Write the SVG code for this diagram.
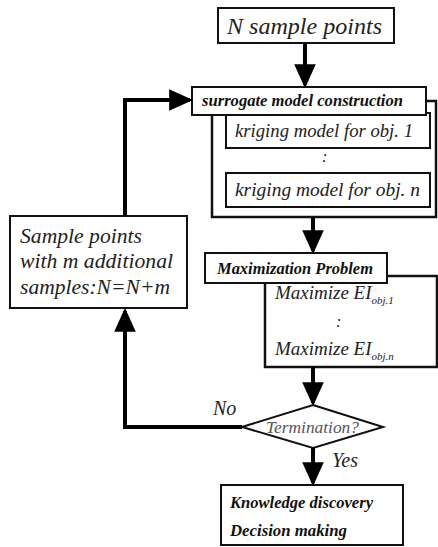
<svg xmlns="http://www.w3.org/2000/svg" width="438" height="547" viewBox="0 0 438 547">
<defs>
<style>
.box{fill:#fff;stroke:#111;stroke-width:2}
.cont{fill:#fff;stroke:#111;stroke-width:2.5}
.wire{fill:none;stroke:#000;stroke-width:4}
.it{font-family:"Liberation Serif","Times New Roman","DejaVu Serif",serif;font-style:italic;fill:#222}
.bi{font-family:"Liberation Serif","Times New Roman","DejaVu Serif",serif;font-style:italic;font-weight:bold;fill:#111}
.sub{font-size:11px}
</style>
<marker id="ah" markerWidth="6" markerHeight="6" refX="5.2" refY="3" orient="auto" markerUnits="strokeWidth" viewBox="0 0 6 6">
<path d="M0,0.3 L6,3 L0,5.7 z" fill="#000"/>
</marker>
</defs>
<rect width="438" height="547" fill="#fff"/>

<g id="n-sample">
<rect class="box" x="218" y="8" width="176" height="35"/>
<text class="it" x="227" y="34" font-size="24" textLength="155" lengthAdjust="spacingAndGlyphs">N sample points</text>
</g>

<g id="surrogate">
<rect class="cont" x="212" y="101" width="224" height="116"/>
<rect class="box" x="226" y="113" width="204" height="35"/>
<text class="it" x="235" y="137" font-size="18" textLength="178" lengthAdjust="spacingAndGlyphs">kriging model for obj. 1</text>
<text class="it" x="322" y="162" font-size="16">:</text>
<rect class="box" x="226" y="173" width="204" height="34"/>
<text class="it" x="235" y="196" font-size="18" textLength="185" lengthAdjust="spacingAndGlyphs">kriging model for obj. n</text>
<rect class="box" x="192" y="87" width="234" height="28"/>
<text class="bi" x="202" y="106" font-size="16" textLength="201" lengthAdjust="spacingAndGlyphs">surrogate model construction</text>
</g>

<g id="maximization">
<path class="cont" d="M387,276 H437 V367 H265 V283"/>
<rect class="box" x="205" y="253" width="182" height="30"/>
<text class="bi" x="217" y="274" font-size="16" textLength="156" lengthAdjust="spacingAndGlyphs">Maximization Problem</text>
<text class="it" x="275" y="299" font-size="19">Maximize EI<tspan class="sub" dy="5">obj.1</tspan></text>
<text class="it" x="336" y="327" font-size="16">:</text>
<text class="it" x="275" y="355" font-size="19">Maximize EI<tspan class="sub" dy="5">obj.n</tspan></text>
</g>

<g id="termination">
<polygon points="313,405 383,427 313,448 242,427" fill="#fff" stroke="#111" stroke-width="2"/>
<text class="it" x="266" y="433" font-size="16" style="fill:#555" textLength="93" lengthAdjust="spacingAndGlyphs">Termination?</text>
</g>

<g id="sample-points">
<rect class="box" x="10" y="216" width="177" height="92"/>
<text class="it" x="20" y="243" font-size="21" textLength="122" lengthAdjust="spacingAndGlyphs">Sample points</text>
<text class="it" x="20" y="268" font-size="21" textLength="153" lengthAdjust="spacingAndGlyphs">with m additional</text>
<text class="it" x="20" y="294" font-size="21" textLength="150" lengthAdjust="spacingAndGlyphs">samples:N=N+m</text>
</g>

<g id="result">
<rect class="box" x="221" y="485" width="182" height="60"/>
<text class="bi" x="230" y="508" font-size="16" textLength="143" lengthAdjust="spacingAndGlyphs">Knowledge discovery</text>
<text class="bi" x="230" y="536" font-size="16" textLength="117" lengthAdjust="spacingAndGlyphs">Decision making</text>
</g>

<g id="connectors">
<line class="wire" x1="305" y1="43" x2="305" y2="85" marker-end="url(#ah)"/>
<line class="wire" x1="313" y1="217" x2="313" y2="251" marker-end="url(#ah)"/>
<line class="wire" x1="313" y1="367" x2="313" y2="403" marker-end="url(#ah)"/>
<line class="wire" x1="313" y1="448" x2="313" y2="483" marker-end="url(#ah)"/>
<polyline class="wire" points="242,427 125,427 125,311" marker-end="url(#ah)"/>
<polyline class="wire" points="125,216 125,100 190,100" marker-end="url(#ah)"/>
<text class="it" x="213" y="415" font-size="20">No</text>
<text class="it" x="332" y="467" font-size="20">Yes</text>
</g>
</svg>
